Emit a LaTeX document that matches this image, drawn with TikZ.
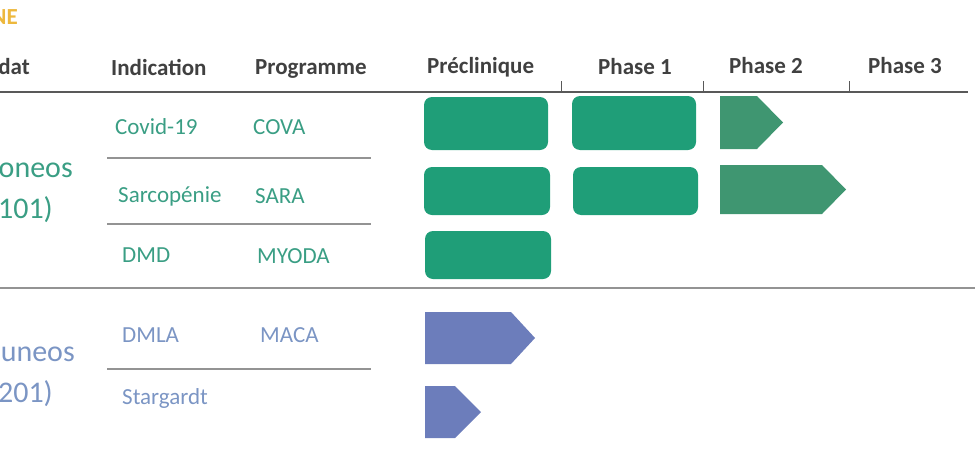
\documentclass[tikz,border=0pt]{standalone}
\usepackage{fontspec}
\setmainfont{Carlito}
\usepackage{xcolor}
\usetikzlibrary{calc}
\definecolor{vert}{HTML}{1F9E78}
\definecolor{vertfonce}{HTML}{3F9671}
\definecolor{verttexte}{HTML}{3A9E84}
\definecolor{bleu}{HTML}{6C7DBB}
\definecolor{bleutexte}{HTML}{7B95C4}
\definecolor{orange}{HTML}{EDB83D}
\definecolor{titre}{HTML}{404040}
\tikzset{
  entete/.style={anchor=base west,inner sep=0pt,text=titre,font=\fontsize{23}{27}\selectfont\bfseries},
  vertlabel/.style={anchor=base west,inner sep=0pt,text=verttexte,font=\fontsize{23}{27}\selectfont},
  bleulabel/.style={anchor=base west,inner sep=0pt,text=bleutexte,font=\fontsize{23}{27}\selectfont},
  grandvert/.style={vertlabel,anchor=base east,font=\fontsize{30}{36}\selectfont},
  grandbleu/.style={bleulabel,anchor=base east,font=\fontsize{30}{36}\selectfont},
  regle/.style={draw=gray!85,line width=1.2pt},
  regleforte/.style={draw=black!65,line width=1.4pt},
  pave/.style={fill=vert,rounded corners=8pt}
}
\begin{document}
\begin{tikzpicture}[x=1pt,y=-1pt]
\useasboundingbox (0,0) rectangle (980,450);
\node[entete,anchor=base east,text=orange] (marque) at (18,24) {NE};

\node[entete,anchor=base east] (candidat) at (30,74) {dat};
\node[entete] (indication) at (111,75) {Indication};
\node[entete] (programme) at (255,74) {Programme};
\node[entete] (preclinique) at (427,73) {Préclinique};
\node[entete] (phase1) at (598,74) {Phase 1};
\node[entete] (phase2) at (729,73) {Phase 2};
\node[entete] (phase3) at (868,73) {Phase 3};

\draw[regleforte] (0,92) -- (968,92);
\foreach \x in {561,703,849}
  \draw[regleforte,line width=1pt] (\x,81) -- (\x,92);
\draw[regle] (107,158) -- (371,158);
\draw[regle] (107,224) -- (371,224);
\draw[regle] (0,288) -- (975,288);
\draw[regle] (107,369) -- (371,369);

\node[grandvert] (oneos) at (73,177) {oneos};
\node[grandvert] (cent) at (53,218) {101)};
\node[vertlabel] (covid) at (115,134) {Covid-19};
\node[vertlabel] (cova) at (253,134) {COVA};
\node[vertlabel] (sarco) at (118,202) {Sarcopénie};
\node[vertlabel] (sara) at (255,203) {SARA};
\node[vertlabel] (dmd) at (122,262) {DMD};
\node[vertlabel] (myoda) at (257,263) {MYODA};

\node[grandbleu] (uneos) at (75,361) {uneos};
\node[grandbleu] (deuxcent) at (53,402) {201)};
\node[bleulabel] (dmla) at (122,342) {DMLA};
\node[bleulabel] (maca) at (260,342) {MACA};
\node[bleulabel] (stargardt) at (122,404) {Stargardt};

\fill[pave] (424,97) rectangle (548,150);
\fill[pave] (572,96) rectangle (696,150);
\fill[pave] (424,167) rectangle (550,215);
\fill[pave] (573,167) rectangle (698,215);
\fill[pave] (425,231) rectangle (551,279);

\fill[vertfonce] (720,96) -- (757,96) -- (783,122.5) -- (757,149) -- (720,149) -- cycle;
\fill[vertfonce] (720,165) -- (822,165) -- (846,189.5) -- (822,214) -- (720,214) -- cycle;
\fill[bleu] (425,312) -- (511,312) -- (535,338) -- (511,364) -- (425,364) -- cycle;
\fill[bleu] (425,386) -- (455,386) -- (481,412) -- (455,438) -- (425,438) -- cycle;
\end{tikzpicture}
\end{document}
